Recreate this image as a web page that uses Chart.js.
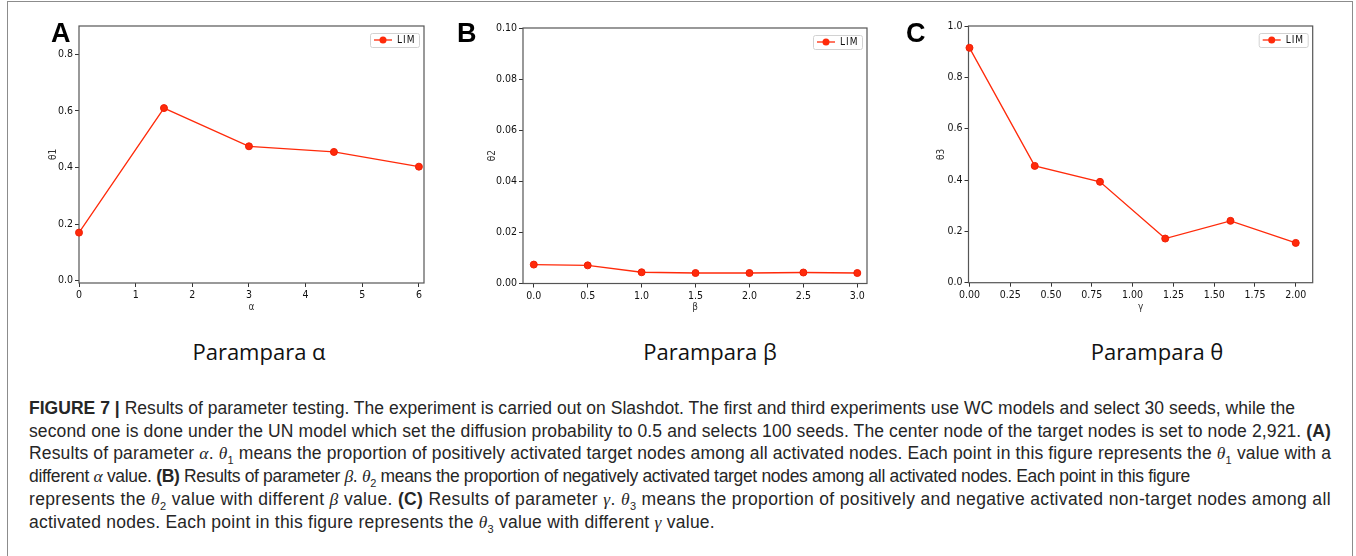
<!DOCTYPE html>
<html>
<head>
<meta charset="utf-8">
<script src="https://cdn.jsdelivr.net/npm/chart.js@4.4.0/dist/chart.umd.min.js"></script>
<style>
  body{margin:0;background:#fff;width:1356px;height:556px;overflow:hidden;position:relative;font-family:'Liberation Sans',Arial,sans-serif}
  .frame{position:absolute;left:7px;top:1px;width:1344px;height:570px;border:1px solid #8c8c8c}
  canvas{position:absolute;top:0}
  .letter{position:absolute;top:18px;font:bold 27px 'Liberation Sans',Arial,sans-serif;color:#000}
  .sub{position:absolute;top:336px;font:22px 'Open Sans',sans-serif;color:#111;white-space:nowrap;transform:translateX(-50%)}
  .cap{position:absolute;left:29px;top:397px;font:17.5px 'Liberation Sans',Arial,sans-serif;line-height:22.7px;color:#262626}
  .cap div{white-space:nowrap;display:table}
  .cap i{font-family:'Liberation Serif',serif}
  .cap sub{font-size:11px;line-height:0}
</style>
</head>
<body>
<div class="frame"></div>
<canvas id="chartA" width="410" height="320" style="left:30px"></canvas>
<canvas id="chartB" width="420" height="320" style="left:460px"></canvas>
<canvas id="chartC" width="420" height="320" style="left:910px"></canvas>
<div class="letter" style="left:51px">A</div>
<div class="letter" style="left:457px">B</div>
<div class="letter" style="left:906px">C</div>
<div class="sub" style="left:259px">Parampara α</div>
<div class="sub" style="left:710px">Parampara β</div>
<div class="sub" style="left:1157px">Parampara θ</div>
<div class="cap" id="cap">
  <div><b>FIGURE 7 |</b> Results of parameter testing. The experiment is carried out on Slashdot. The first and third experiments use WC models and select 30 seeds, while the</div>
  <div>second one is done under the UN model which set the diffusion probability to 0.5 and selects 100 seeds. The center node of the target nodes is set to node 2,921. <b>(A)</b></div>
  <div>Results of parameter <i>α</i>. <i>θ</i><sub>1</sub> means the proportion of positively activated target nodes among all activated nodes. Each point in this figure represents the <i>θ</i><sub>1</sub> value with a</div>
  <div>different <i>α</i> value. <b>(B)</b> Results of parameter <i>β</i>. <i>θ</i><sub>2</sub> means the proportion of negatively activated target nodes among all activated nodes. Each point in this figure</div>
  <div>represents the <i>θ</i><sub>2</sub> value with different <i>β</i> value. <b>(C)</b> Results of parameter <i>γ</i>. <i>θ</i><sub>3</sub> means the proportion of positively and negative activated non-target nodes among all</div>
  <div>activated nodes. Each point in this figure represents the <i>θ</i><sub>3</sub> value with different <i>γ</i> value.</div>
</div>
<script>
// panel A: parameter alpha
const alphaX = [0, 1.5, 3, 4.5, 6];
const theta1 = [0.17, 0.61, 0.475, 0.455, 0.403];
const ticksAX = [0, 1, 2, 3, 4, 5, 6];
const ticksAY = [0, 0.2, 0.4, 0.6, 0.8];

// panel B: parameter beta
const betaX = [0, 0.5, 1, 1.5, 2, 2.5, 3];
const theta2 = [0.0074, 0.0071, 0.0044, 0.0041, 0.0041, 0.0043, 0.0041];
const ticksBX = [0, 0.5, 1, 1.5, 2, 2.5, 3];
const ticksBY = [0, 0.02, 0.04, 0.06, 0.08, 0.1];

// panel C: parameter gamma
const gammaX = [0, 0.4, 0.8, 1.2, 1.6, 2.0];
const theta3 = [0.915, 0.455, 0.393, 0.172, 0.241, 0.155];
const ticksCX = [0, 0.25, 0.5, 0.75, 1, 1.25, 1.5, 1.75, 2];
const ticksCY = [0, 0.2, 0.4, 0.6, 0.8, 1];

const seriesName = 'LIM';
const RED = '#ff2a0a';
const NARROW = "'Liberation Sans Narrow', 'DejaVu Sans Condensed', sans-serif";
const tickFont = {family: NARROW, size: 10.5};

// caption lines are ragged right; nudge letter spacing so each ends where the original does
const capEnds = [1295, 1331, 1331, 1190, 1331, 715];
document.querySelectorAll('#cap > div').forEach((d, i) => {
  const w = d.getBoundingClientRect().width;
  const n = d.textContent.trim().length;
  d.style.letterSpacing = ((capEnds[i] - 29 - w) / n).toFixed(3) + 'px';
});

// box round the plot area (all four spines)
const frameBox = {
  id: 'frameBox',
  beforeDatasetsDraw(chart){
    const {ctx, chartArea: a} = chart;
    ctx.save();
    ctx.strokeStyle = '#555';
    ctx.lineWidth = 1.2;
    ctx.strokeRect(a.left, a.top, a.right - a.left, a.bottom - a.top);
    ctx.restore();
  }
};

// small framed legend, top right inside the plot
const cornerLegend = {
  id: 'cornerLegend',
  afterDraw(chart){
    const {ctx, chartArea: a} = chart;
    const ds = chart.data.datasets[0];
    const w = 49, h = 14, x = a.right - 5 - w, y = a.top + 7, cy = y + h / 2;
    ctx.save();
    ctx.fillStyle = 'rgba(255,255,255,0.9)';
    ctx.strokeStyle = '#d2d2d2';
    ctx.lineWidth = 1;
    ctx.beginPath();
    ctx.roundRect(x + 0.5, y + 0.5, w, h, 2);
    ctx.fill(); ctx.stroke();
    ctx.strokeStyle = ds.borderColor;
    ctx.lineWidth = 1.3;
    ctx.beginPath(); ctx.moveTo(x + 4, cy); ctx.lineTo(x + 22, cy); ctx.stroke();
    ctx.fillStyle = ds.pointBackgroundColor;
    ctx.beginPath(); ctx.arc(x + 13, cy, 3.5, 0, Math.PI * 2); ctx.fill();
    ctx.fillStyle = '#111';
    ctx.font = "10px " + NARROW;
    ctx.letterSpacing = '1px';
    ctx.textBaseline = 'middle';
    ctx.fillText(ds.label, x + 27, cy + 0.5);
    ctx.restore();
  }
};

function axis(cfg){
  return {
    type: 'linear',
    min: cfg.min, max: cfg.max,
    afterBuildTicks: s => { s.ticks = cfg.ticks.map(v => ({value: v})); },
    afterFit: s => { if (cfg.width) s.width = cfg.width; if (cfg.height) s.height = cfg.height; },
    border: {display: false},
    grid: {drawOnChartArea: false, drawTicks: true, tickLength: 4, color: '#333'},
    ticks: {color: '#111', font: tickFont, padding: 2, maxRotation: 0, autoSkip: false,
            callback: v => v.toFixed(cfg.dec)},
    title: {display: true, text: cfg.title, color: '#333',
            font: {family: NARROW, size: 10}, padding: cfg.tpad}
  };
}

function makePanel(id, xs, ys, xa, ya, pad){
  new Chart(document.getElementById(id), {
    type: 'line',
    data: {
      datasets: [{
        label: seriesName,
        data: xs.map((x, i) => ({x: x, y: ys[i]})),
        borderColor: RED, borderWidth: 1.3,
        pointBackgroundColor: RED, pointBorderColor: '#f01e05', pointBorderWidth: 1,
        pointRadius: 3.5, tension: 0, clip: false
      }]
    },
    options: {
      responsive: false, animation: false, devicePixelRatio: 1,
      layout: {padding: pad},
      plugins: {legend: {display: false}, tooltip: {enabled: false}},
      scales: {x: axis(xa), y: axis(ya)}
    },
    plugins: [frameBox, cornerLegend]
  });
}

makePanel('chartA', alphaX, theta1,
  {min: 0, max: 6.09, ticks: ticksAX, dec: 0, title: 'α', height: 37, tpad: {top: 0, bottom: 7}},
  {min: -0.008, max: 0.9, ticks: ticksAY, dec: 1, title: 'θ1', width: 32, tpad: {top: 0, bottom: 0}},
  {left: 17, top: 26, right: 16, bottom: 0});

makePanel('chartB', betaX, theta2,
  {min: -0.1, max: 3.09, ticks: ticksBX, dec: 1, title: 'β', height: 36.5, tpad: {top: 0, bottom: 7}},
  {min: 0, max: 0.1, ticks: ticksBY, dec: 2, title: 'θ2', width: 37, tpad: {top: 0, bottom: 0}},
  {left: 26, top: 28, right: 13, bottom: 0});

makePanel('chartC', gammaX, theta3,
  {min: -0.006, max: 2.104, ticks: ticksCX, dec: 2, title: 'γ', height: 37.3, tpad: {top: 0, bottom: 7}},
  {min: 0, max: 1, ticks: ticksCY, dec: 1, title: 'θ3', width: 33.5, tpad: {top: 0, bottom: 0}},
  {left: 25, top: 26, right: 17.3, bottom: 0});
</script>
</body>
</html>
